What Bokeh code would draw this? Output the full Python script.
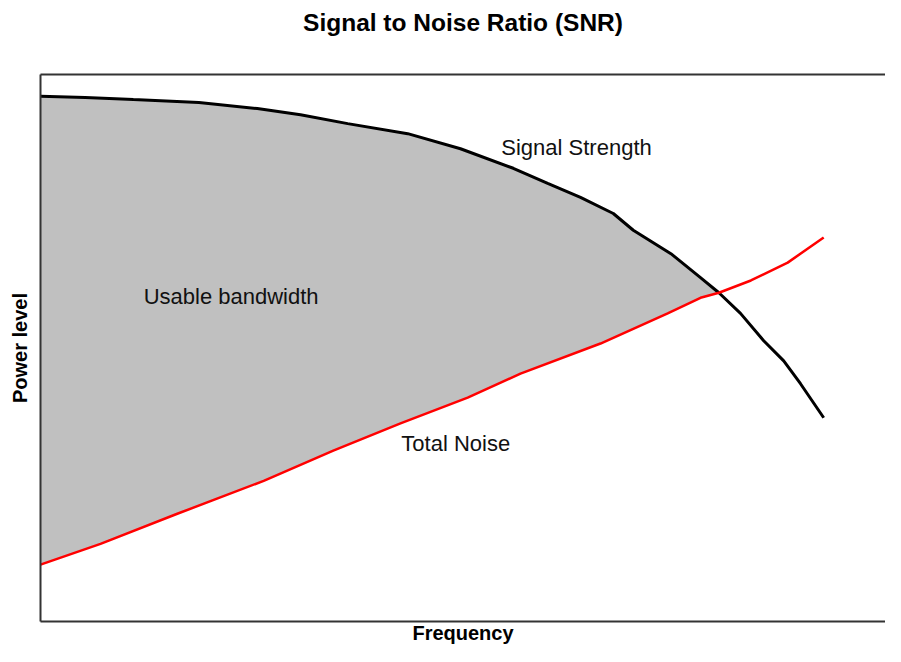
import numpy as np
from bokeh.plotting import figure
from bokeh.models import Range1d, LinearAxis, FixedTicker
from bokeh.core.properties import value
from bokeh.embed import file_html
from bokeh.resources import INLINE

# Signal strength curve (frequency, power level)
signal_freq = [0.0, 0.56, 1.16, 1.98, 2.71, 3.25, 3.84, 4.59, 5.25, 5.91, 6.34,
               6.75, 7.16, 7.41, 7.88, 8.25, 8.48, 8.75, 9.04, 9.29, 9.5, 9.79]
signal_level = [9.61, 9.59, 9.55, 9.50, 9.39, 9.28, 9.12, 8.94, 8.67, 8.32, 8.05,
                7.80, 7.51, 7.21, 6.79, 6.36, 6.09, 5.72, 5.23, 4.87, 4.46, 3.85]

# Total noise curve
noise_freq = [0.0, 0.75, 1.71, 2.79, 3.66, 4.5, 5.34, 6.0, 7.0, 7.84, 8.25,
              8.48, 8.88, 9.34, 9.79]
noise_level = [1.22, 1.59, 2.13, 2.72, 3.26, 3.75, 4.21, 4.64, 5.18, 5.72, 6.00,
               6.09, 6.31, 6.63, 7.08]

crossing_freq = 8.48

# Annotation texts
label_text = ["Signal Strength", "Usable bandwidth", "Total Noise"]
label_x = [5.76, 1.29, 4.51]
label_y = [8.69, 6.02, 3.39]

chart_title = "Signal to Noise Ratio (SNR)"
x_title = "Frequency"
y_title = "Power level"

FONT = "Liberation Sans"

p = figure(width=885, height=646, output_backend="svg", toolbar_location=None,
           x_range=Range1d(0, 10.5625), y_range=Range1d(0.2, 10),
           x_axis_location=None, y_axis_location=None,
           min_border_left=40, min_border_right=0, min_border_top=74, min_border_bottom=0)
p.outline_line_color = None
p.grid.visible = False
p.background_fill_color = "white"
p.border_fill_color = "white"


def style_axis(ax, label, size="20px", standoff=0):
    ax.ticker = FixedTicker(ticks=[])
    ax.axis_label = label
    ax.axis_label_text_font = FONT
    ax.axis_label_text_font_style = "bold"
    ax.axis_label_text_font_size = size
    ax.axis_label_text_color = "#000000"
    ax.axis_label_standoff = standoff
    ax.major_tick_line_color = None
    ax.minor_tick_line_color = None
    ax.major_tick_out = 0
    ax.major_tick_in = 0
    ax.minor_tick_out = 0
    ax.minor_tick_in = 0
    ax.major_label_standoff = 0
    ax.axis_line_color = "#333333"
    ax.axis_line_width = 2


bottom = LinearAxis()
style_axis(bottom, x_title)
p.add_layout(bottom, "below")

left = LinearAxis()
style_axis(left, y_title, standoff=10)
p.add_layout(left, "left")

# top border of the frame, carrying the chart title
top = LinearAxis()
style_axis(top, chart_title, size="24.5px", standoff=39)
p.add_layout(top, "above")

# Usable bandwidth region between signal and noise up to their crossing
sx = np.array(signal_freq)
sy = np.array(signal_level)
nx = np.array(noise_freq)
ny = np.array(noise_level)
ms = sx <= crossing_freq
mn = nx <= crossing_freq
poly_x = list(sx[ms]) + list(nx[mn][::-1])
poly_y = list(sy[ms]) + list(ny[mn][::-1])
p.patch(poly_x, poly_y, fill_color="#C0C0C0", line_color=None)

p.line(signal_freq, signal_level, line_color="#000000", line_width=3)
p.line(noise_freq, noise_level, line_color="#FF0000", line_width=2.5)

p.text(x=label_x, y=label_y, text=label_text, text_font=value(FONT),
       text_font_size="22px", text_baseline="middle", text_align="left",
       text_color="#111111")

open("out.html", "w").write(file_html(p, INLINE))
